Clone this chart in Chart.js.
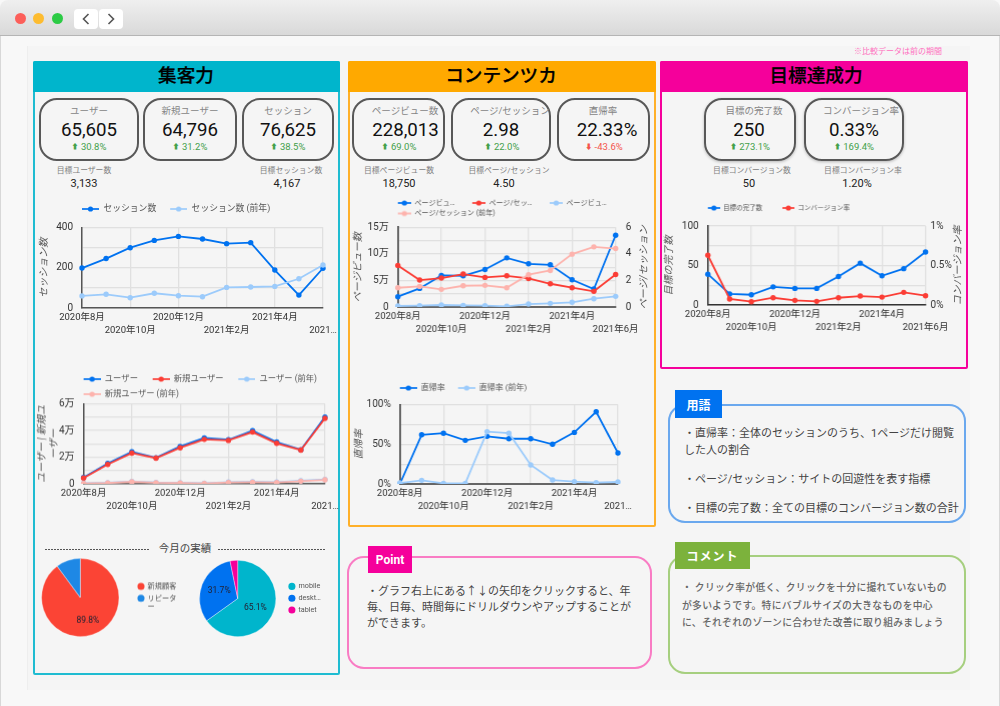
<!DOCTYPE html>
<html lang="ja"><head><meta charset="utf-8">
<script src="https://cdn.jsdelivr.net/npm/chart.js@4/dist/chart.umd.min.js"></script>
<style>
html,body{margin:0;padding:0;background:#f8f8f8}
body{font-family:Roboto,"Noto Sans CJK JP",sans-serif;}
#root{position:relative;width:1000px;height:706px;overflow:hidden;background:#f8f8f8}
#root div,#root canvas{position:absolute;box-sizing:border-box}
.t{white-space:nowrap;transform:translate(-50%,-50%);line-height:1}
.l{white-space:nowrap;transform:translateY(-50%);line-height:1}
.card{border:2px solid #585858;border-radius:18px;top:98px;height:63px}
.panel{border-style:solid;border-width:2px;border-radius:2px}
.box{border-style:solid;border-width:2px;border-radius:17px;background:#f5f5f5}
.tag{color:#fff;font-weight:700;display:flex;align-items:center;justify-content:center}
.dot{border-radius:50%;width:11px;height:11px;top:12.5px}
.navb{background:#fff;top:9px;width:24px;height:20px;border-radius:4px}
.dash{height:1px;background:repeating-linear-gradient(90deg,#555 0,#555 2px,transparent 2px,transparent 3px)}
</style></head><body><div id="root"></div>
<script>
// ---------- data ----------
const months=['2020年8月','2020年9月','2020年10月','2020年11月','2020年12月','2021年1月','2021年2月','2021年3月','2021年4月','2021年5月','2021年6月'];
const xTicksShort=['2020年8月','2020年10月','2020年12月','2021年2月','2021年4月','2021…'];
const xTicksFull=['2020年8月','2020年10月','2020年12月','2021年2月','2021年4月','2021年6月'];

const sessions=[198,245,299,335,355,342,319,324,188,64,197];
const sessionsPrev=[60,68,51,73,61,56,102,104,107,145,213];
const sessionTicks=['0','','200','','400'];

const users=[4800,15300,24100,19600,28100,34400,33100,39900,31400,25600,50200];
const newUsers=[4300,14600,23100,19300,27100,33400,32600,38900,30400,25400,49200];
const usersPrev=[500,800,1800,1000,800,500,1300,1500,1300,2300,3300];
const newUsersPrev=[200,600,1500,800,600,300,1000,1200,1000,2000,3000];
const userTicks=['0','','2万','','4万','','6万'];

const pageviews=[19400,35000,59400,58800,70600,92500,81300,79400,51300,33800,135000];
const pagesPerSession=[3.13,2.03,2.18,2.48,2.23,2.35,2.15,1.75,1.45,1.18,2.45];
const pageviewsPrev=[1900,2500,3800,3100,2500,1300,5600,6900,8800,15600,20000];
const pagesPerSessionPrev=[1.45,1.55,1.33,1.6,1.63,1.45,2.43,2.75,3.98,4.53,4.4];
const pvTicks=['0','','5万','','10万','','15万'];
const ppsTicks=['0','','2','','4','','6'];

const bounce=[0,62,64,55,60,57,57,50,65,91,39];
const bouncePrev=[1.2,4.6,0.8,0.8,66,64,24,5,3,1.7,2.5];
const bounceTicks=['0%','','50%','','100%'];

const goals=[39,14,13,23,21,21,36,53,37,46,67];
const cvRate=[0.63,0.076,0.042,0.092,0.059,0.046,0.092,0.113,0.10,0.16,0.118];
const goalTicks=['0','','50','','100'];
const cvTicks=['0%','','0.5%','','1%'];

const custNames=['新規顧客',['リピータ','ー']];
const custValues=[89.8,10.2];
const custLabels=['89.8%',''];
const devNames=['mobile','deskt…','tablet'];
const devValues=[65.1,31.7,3.2];
const devLabels=['65.1%','31.7%',''];

const BLUE='#0072f0',RED='#fb3d35',LBLUE='#9ccbfb',PINK='#fdb3ad',CYAN='#00b5cc',MAG='#f5009b',SKY='#1e88e5';
const FF='Roboto,"Noto Sans CJK JP",sans-serif';

// ---------- page furniture ----------
const root=document.getElementById('root');
function el(cls,css,html){const d=document.createElement('div');d.className=cls;d.style.cssText=css;if(html!=null)d.innerHTML=html;root.appendChild(d);return d;}
function T(cx,cy,s,size,color,extra){el('t',`left:${cx}px;top:${cy}px;font-size:${size}px;color:${color};${extra||''}`,s);}
function L(x,cy,s,size,color,extra){el('l',`left:${x}px;top:${cy}px;font-size:${size}px;color:${color};${extra||''}`,s);}

el('','left:0;top:0;width:1000px;height:36px;background:linear-gradient(#efefef,#d9d9d9);border-bottom:1px solid #b5b5b5;border-radius:8px 8px 0 0;');
el('','left:0;top:36px;width:1px;height:670px;background:#d8d8d8');
el('','left:999px;top:36px;width:1px;height:670px;background:#d8d8d8');
el('dot','left:15px;background:#fc5f5a');el('dot','left:33px;background:#fdbc30');el('dot','left:52px;background:#2ccb45');
el('navb','left:74px');el('navb','left:99px');
T(86,19,'<svg width="8" height="13" viewBox="0 0 8 13" style="display:block"><path d="M6.5 1.5 L1.5 6.5 L6.5 11.5" fill="none" stroke="#555" stroke-width="1.6"/></svg>',10,'#555');
T(111,19,'<svg width="8" height="13" viewBox="0 0 8 13" style="display:block"><path d="M1.5 1.5 L6.5 6.5 L1.5 11.5" fill="none" stroke="#555" stroke-width="1.6"/></svg>',10,'#555');
el('','left:27px;top:46px;width:943px;height:644px;background:#f5f5f5;border-left:1px solid #eee');

T(898,52,'※比較データは前の期間',8,'#ff6fc0');

function panel(x,y,w,h,color,border,title,cx){
  el('panel',`left:${x}px;top:${y}px;width:${w}px;height:${h}px;border-color:${border}`);
  el('',`left:${x}px;top:${y}px;width:${w}px;height:31px;background:${color};border-radius:2px 2px 0 0`);
  T(cx,y+15,title,18.6,'#000','font-weight:500;-webkit-text-stroke:.25px #000');
}
panel(33,61,307,614,'#00b5cc','#1fbcd1','集客力',186);
panel(348,61,308,466,'#ffa900','#ffb029','コンテンツカ',501);
panel(660,61,308,308,'#f5009b','#f5009b','目標達成力',816);

function card(x,w,lab,labX,val,valX,delta,dX,up,sh){
  el('card',`left:${x}px;width:${w}px;${sh?'box-shadow:0 1px 3px rgba(0,0,0,.25)':''}`);
  T(labX,111,lab,9.5,'#858585');
  T(valX,130,val,18.7,'#111');
  T(dX,147,(up?'<span style="font-size:7px;vertical-align:1px">⬆</span> ':'<span style="font-size:7px;vertical-align:1px">⬇</span> ')+delta,9.5,up?'#43a04a':'#f4544c');
}
card(39,100,'ユーザー',89,'65,605',89,'30.8%',89,true);
card(143,94,'新規ユーザー',190,'64,796',190,'31.2%',190,true);
card(242,92,'セッション',288,'76,625',288,'38.5%',288,true);
card(352,93,'ページビュー数',405,'228,013',405.5,'69.0%',399,true);
card(451,100,'ページ/セッション',510,'2.98',501,'22.0%',502,true);
card(557,93,'直帰率',603,'22.33%',607,'-43.6%',604,false);
card(704,92,'目標の完了数',754,'250',749,'273.1%',750,true,true);
card(804,100,'コンバージョン率',861,'0.33%',854,'169.4%',854,true,true);

function goal(lx,vx,lab,val){T(lx,171,lab,7.8,'#808080');T(vx,183,val,11,'#222');}
goal(84,84,'目標ユーザー数','3,133');
goal(291,287,'目標セッション数','4,167');
goal(399,399,'目標ページビュー数','18,750');
goal(509,504,'目標ページ/セッション','4.50');
goal(752,749,'目標コンバージョン数','50');
goal(863,857,'目標コンバージョン率','1.20%');

// 今月の実績
T(185,549,'今月の実績',10.5,'#444');
el('dash','left:45px;top:549px;width:105px');
el('dash','left:218px;top:549px;width:107px');

// note boxes
el('box','left:347px;top:556px;width:305px;height:113px;border-color:#f97cc4');
el('tag','left:368px;top:546px;width:44px;height:27px;background:#f5009b;font-size:12px','Point');
const pointLines=['・グラフ右上にある↑↓の矢印をクリックすると、年','毎、日毎、時間毎にドリルダウンやアップすることが','ができます。'];
[591,606.5,622.5].forEach((y,i)=>L(367,y,pointLines[i],11,'#444'));

el('box','left:668px;top:404px;width:298px;height:119px;border-color:#6aa8ee');
el('tag','left:675px;top:390px;width:47px;height:28px;background:#0072f0;font-size:12px','用語');
const termLines=['・直帰率：全体のセッションのうち、1ページだけ閲覧','した人の割合','・ページ/セッション：サイトの回遊性を表す指標','・目標の完了数：全ての目標のコンバージョン数の合計'];
[432.5,450,479,508].forEach((y,i)=>L(684,y,termLines[i],11,'#444'));

el('box','left:668px;top:555px;width:298px;height:119px;border-color:#a6cf7f');
el('tag','left:675px;top:542px;width:75px;height:27px;background:#7cb23c;font-size:12px;letter-spacing:1px','コメント');
const commentLines=['・ クリック率が低く、クリックを十分に撮れていないもの','が多いようです。特にバブルサイズの大きなものを中心','に、それぞれのゾーンに合わせた改善に取り組みましょう'];
[588,606,623].forEach((y,i)=>L(682,y,commentLines[i],9.8,'#666','font-weight:500;letter-spacing:.3px'));

// ---------- chart helpers ----------
function swatch(color,blank,len,lw,r){
  const c=document.createElement('canvas');c.width=blank+len;c.height=8;
  const g=c.getContext('2d');g.strokeStyle=color;g.fillStyle=color;g.lineWidth=lw;
  g.beginPath();g.moveTo(blank,4);g.lineTo(blank+len,4);g.stroke();
  g.beginPath();g.arc(blank+len/2,4,r,0,Math.PI*2);g.fill();
  return c;
}
const placeLegend={id:'placeLegend',
  beforeLayout(ch){
    const o=ch.options.plugins.placeLegend,lg=ch.legend;
    if(lg._patched)return;lg._patched=true;
    const f=lg.fit;
    lg.fit=function(){if(o.wrap)this.maxWidth=o.wrap;f.call(this);if(o.vertical)this.width=0;else this.height=0;};
  },
  afterLayout(ch){
    const o=ch.options.plugins.placeLegend,lg=ch.legend;
    lg.left=o.x;lg.top=o.y;lg.right=o.x+(o.wrap||300);lg.bottom=ch.height;
    lg.width=lg.right-lg.left;lg.height=lg.bottom-lg.top;
  }};
const rightTitle={id:'rightTitle',afterDraw(ch){
  const o=ch.options.plugins.rightTitle;if(!o||!o.text)return;
  const g=ch.ctx,a=ch.chartArea;g.save();
  g.translate(a.right+o.dx,(a.top+a.bottom)/2);g.rotate(-Math.PI/2);
  g.font='italic '+o.size+'px '+FF;g.fillStyle='#555';g.textAlign='center';g.textBaseline='middle';
  g.fillText(o.text,0,0);g.restore();}};

function lineChart(o){
  const cv=document.createElement('canvas');
  const cx=o.plot[0]-o.leftW,cy=o.legendY-10,cw=o.leftW+(o.plot[2]-o.plot[0])+Math.max(o.rightW||0,26);
  const ch=o.plot[3]+30-cy;
  cv.width=cw;cv.height=ch;cv.style.cssText=`left:${cx}px;top:${cy}px;width:${cw}px;height:${ch}px`;root.appendChild(cv);
  const datasets=o.series.map((s,i)=>({label:s.label,data:s.data,yAxisID:s.axis||'y',borderColor:s.color,backgroundColor:s.color,
    pointBackgroundColor:s.color,pointBorderColor:s.color,pointRadius:o.pr||2.7,pointBorderWidth:0,borderWidth:o.lw||1.8,tension:0,order:o.series.length-i}));
  const gridC='#e0e0e0';
  const yAxis=(min,max,step,labels,title,pos,w,pad,showGrid)=>({
    type:'linear',position:pos,min,max,
    afterFit(s){s.width=w;s.paddingTop=0;s.paddingBottom=0;},
    grid:{display:showGrid,color:gridC,lineWidth:1.3,drawTicks:false},
    border:{display:true,color:o.axisC||'#555',width:pos==='left'?(o.axisW||1.5):0},
    title:{display:pos==='left',text:title,color:'#555',padding:{top:0,bottom:0},font:{family:FF,size:o.titleSize||10,style:'italic',lineHeight:1.2}},
    ticks:{stepSize:step,autoSkip:false,maxTicksLimit:20,padding:pad,color:'#333',font:{family:FF,size:10},callback:(v,i)=>labels[i]}
  });
  const scales={
    x:{type:'category',
      afterFit(s){s.height=30;s.paddingLeft=0;s.paddingRight=0;},
      grid:{display:true,drawTicks:false,lineWidth:1.3,color:c=>c.index%2===0?gridC:'rgba(0,0,0,0)'},
      border:{display:true,color:o.axisC||'#555',width:o.axisW||1.5},
      ticks:{autoSkip:false,maxRotation:0,minRotation:0,padding:3,color:'#333',font:{family:FF,size:9.5,lineHeight:13/9.5},
        callback:(v,i)=>{if(i%2)return '';const t=o.xTicks[i/2];return i%4===2?['',t]:t;}}
    },
    y:yAxis(o.left.min,o.left.max,o.left.step,o.left.labels,o.left.title,'left',o.leftW,9,true)
  };
  if(o.right)scales.y2=yAxis(o.right.min,o.right.max,o.right.step,o.right.labels,o.right.title,'right',o.rightW,o.right.pad,false);
  new Chart(cv,{type:'line',plugins:[placeLegend,rightTitle],
    data:{labels:months,datasets},
    options:{responsive:false,animation:false,
      layout:{autoPadding:false,padding:{left:0,right:cw-o.leftW-(o.plot[2]-o.plot[0])-(o.rightW||0),top:o.plot[1]-cy,bottom:0}},
      plugins:{tooltip:{enabled:false},
        rightTitle:o.right?{text:o.right.title,dx:o.right.tdx,size:o.titleSize||10}:{},
        placeLegend:{x:o.plot[0]-cx-o.lg.pad-o.lg.blank,y:o.legendY-cy-o.lg.pad-o.lg.size/2,wrap:o.lg.wrap||300},
        legend:{display:true,position:'top',align:'start',
          labels:{usePointStyle:true,pointStyleWidth:o.lg.blank+o.lg.len,padding:o.lg.pad,color:'#555',font:{family:FF,size:o.lg.size},
            generateLabels:c=>c.data.datasets.map((d,i)=>({text:d.label,fontColor:'#555',datasetIndex:i,hidden:false,
              lineWidth:0,strokeStyle:d.borderColor,fillStyle:d.borderColor,
              pointStyle:swatch(d.borderColor,o.lg.blank,o.lg.len,o.lw||1.7,o.lg.dot||2.6)}))}}},
      scales}});
}

lineChart({plot:[81.7,227,323,307.7],leftW:44,legendY:208.7,xTicks:xTicksShort,
  series:[{label:'セッション数',data:sessions,color:BLUE},{label:'セッション数 (前年)',data:sessionsPrev,color:LBLUE}],
  left:{min:0,max:400,step:100,labels:sessionTicks,title:'セッション数'},
  lg:{size:8.8,pad:5,blank:9,len:17}});

lineChart({plot:[83.3,404,325,484],leftW:47.6,legendY:379.3,xTicks:xTicksShort,
  series:[{label:'ユーザー',data:users,color:BLUE},{label:'新規ユーザー',data:newUsers,color:RED},{label:'ユーザー (前年)',data:usersPrev,color:LBLUE},{label:'新規ユーザー (前年)',data:newUsersPrev,color:PINK}],
  left:{min:0,max:60000,step:10000,labels:userTicks,title:['ユーザー | 新規ユ','ーザー']},
  lg:{size:8.3,pad:6.7,blank:8,len:17,wrap:290}});

lineChart({plot:[398,227,615.7,307],leftW:45.7,rightW:34.3,legendY:202.7,xTicks:xTicksFull,axisC:'#666',axisW:2,
  series:[{label:'ページビュ…',data:pageviews,color:BLUE},{label:'ページ/セッ…',data:pagesPerSession,color:RED,axis:'y2'},{label:'ページビュ…',data:pageviewsPrev,color:LBLUE},{label:'ページ/セッション (前年)',data:pagesPerSessionPrev,color:PINK,axis:'y2'}],
  left:{min:0,max:150000,step:25000,labels:pvTicks,title:'ページビュー数'},
  right:{min:0,max:6,step:1,labels:ppsTicks,title:'ページ/セッション',pad:10,tdx:28.3},
  lg:{size:7.1,pad:3.4,blank:14,len:13,wrap:270}});

lineChart({plot:[400,404.3,618.3,484.3],leftW:46.7,legendY:387.7,xTicks:xTicksShort,axisC:'#666',axisW:2,
  series:[{label:'直帰率',data:bounce,color:BLUE},{label:'直帰率 (前年)',data:bouncePrev,color:LBLUE}],
  left:{min:0,max:100,step:25,labels:bounceTicks,title:'直帰率'},
  lg:{size:8,pad:5,blank:8,len:17}});

lineChart({plot:[707.7,226,925.3,305.3],leftW:44.7,rightW:38.4,legendY:208,xTicks:xTicksFull,axisC:'#333',
  series:[{label:'目標の完了数',data:goals,color:BLUE},{label:'コンバージョン率',data:cvRate,color:RED,axis:'y2'}],
  left:{min:0,max:100,step:25,labels:goalTicks,title:'目標の完了数'},
  right:{min:0,max:1,step:.25,labels:cvTicks,title:'コンバージョン率',pad:5,tdx:32.4},
  lg:{size:6.5,pad:3,blank:17,len:12}});

const sliceLabels={id:'sliceLabels',afterDatasetsDraw(ch){
  const o=ch.options.plugins.sliceLabels,g=ch.ctx,meta=ch.getDatasetMeta(0);
  g.save();g.font='8.5px '+FF;g.fillStyle='#223';g.textAlign='center';g.textBaseline='middle';
  meta.data.forEach((a,i)=>{if(!o.labels[i])return;
    const p=a.getProps(['x','y','startAngle','endAngle','outerRadius']);
    const m=(p.startAngle+p.endAngle)/2,r=p.outerRadius*o.ratio;
    g.fillText(o.labels[i],p.x+Math.cos(m)*r,p.y+Math.sin(m)*r);});
  g.restore();}};
function pieChart(o){
  const cv=document.createElement('canvas');const x=o.cx-o.r-4,y=o.cy-o.r-4,w=150,h=o.r*2+8;
  cv.width=w;cv.height=h;cv.style.cssText=`left:${x}px;top:${y}px;width:${w}px;height:${h}px`;root.appendChild(cv);
  const pad=4.6,fs=7.2;
  new Chart(cv,{type:'pie',plugins:[placeLegend,sliceLabels],
    data:{labels:o.names,datasets:[{data:o.values,backgroundColor:o.colors,borderColor:'rgba(255,255,255,.6)',borderWidth:.6}]},
    options:{responsive:false,animation:false,
      layout:{autoPadding:false,padding:{left:4,top:4,bottom:4,right:w-2*o.r-4}},
      plugins:{tooltip:{enabled:false},sliceLabels:{labels:o.labels,ratio:o.ratio},
        placeLegend:{vertical:true,x:o.legendX-x-pad,y:o.legendY-y-pad-fs/2,wrap:80},
        legend:{display:true,position:'right',align:'start',
          labels:{usePointStyle:true,pointStyle:'circle',boxWidth:6,boxHeight:5,padding:pad,color:'#555',font:{family:FF,size:fs,lineHeight:1.2},
            generateLabels:c=>c.data.labels.map((t,i)=>({text:t,fontColor:'#555',index:i,lineWidth:0,pointStyle:'circle',fillStyle:c.data.datasets[0].backgroundColor[i],strokeStyle:c.data.datasets[0].backgroundColor[i]}))}}}}});
}
pieChart({cx:80.3,cy:597.3,r:39.3,names:custNames,values:custValues,colors:['#fb4435',SKY],labels:custLabels,ratio:.62,legendX:138,legendY:586});
pieChart({cx:237.3,cy:598.3,r:38.7,names:devNames,values:devValues,colors:[CYAN,BLUE,MAG],labels:devLabels,ratio:.52,legendX:288.5,legendY:586});
</script></body></html>
